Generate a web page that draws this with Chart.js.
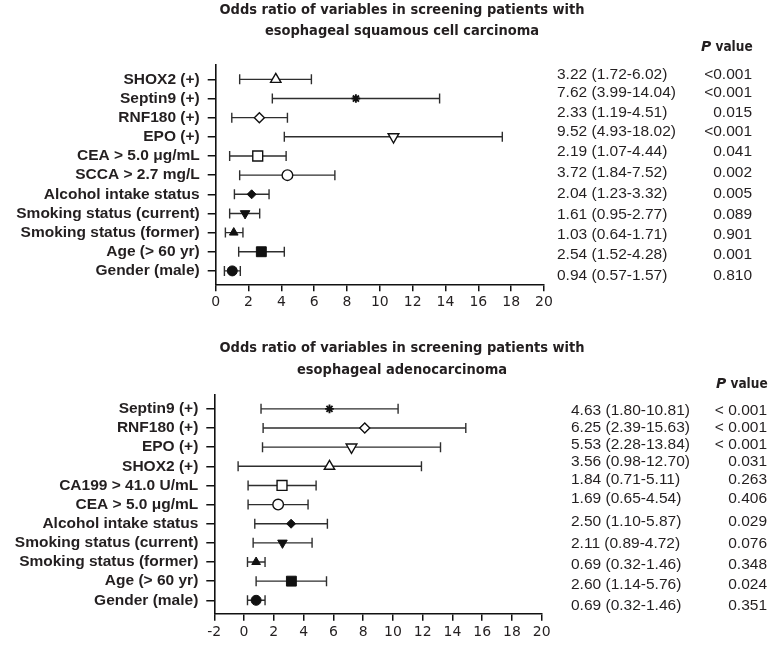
<!DOCTYPE html>
<html>
<head>
<meta charset="utf-8">
<script src="https://cdn.jsdelivr.net/npm/chart.js@4.4.1/dist/chart.umd.min.js"></script>
<style>
  html, body { margin: 0; padding: 0; background: #ffffff; }
  #wrap { position: relative; width: 782px; height: 645px; overflow: hidden; }
  canvas { position: absolute; left: 0; }
</style>
</head>
<body>
<div id="wrap">
  <canvas id="c1" width="782" height="320" style="top:0px"></canvas>
  <canvas id="c2" width="782" height="325" style="top:320px"></canvas>
</div>
<script>
// ---------------- DATA: panel 1 (squamous cell carcinoma) ----------------
const sccTitle = ['Odds ratio of variables in screening patients with', 'esophageal squamous cell carcinoma'];
const sccLabels = ['SHOX2 (+)', 'Septin9 (+)', 'RNF180 (+)', 'EPO (+)', 'CEA > 5.0 μg/mL', 'SCCA > 2.7 mg/L',
  'Alcohol intake status', 'Smoking status (current)', 'Smoking status (former)', 'Age (> 60 yr)', 'Gender (male)'];
const sccOR   = [3.66, 8.54, 2.66, 10.83, 2.56, 4.37, 2.19, 1.79, 1.10, 2.78, 1.01];
const sccLow  = [1.46, 3.45, 0.98, 4.18, 0.85, 1.46, 1.14, 0.85, 0.59, 1.40, 0.53];
const sccHigh = [5.83, 13.64, 4.37, 17.46, 4.29, 7.26, 3.25, 2.68, 1.66, 4.18, 1.50];
const sccORText = ['3.22 (1.72-6.02)', '7.62 (3.99-14.04)', '2.33 (1.19-4.51)', '9.52 (4.93-18.02)', '2.19 (1.07-4.44)',
  '3.72 (1.84-7.52)', '2.04 (1.23-3.32)', '1.61 (0.95-2.77)', '1.03 (0.64-1.71)', '2.54 (1.52-4.28)', '0.94 (0.57-1.57)'];
const sccPText = ['<0.001', '<0.001', '0.015', '<0.001', '0.041', '0.002', '0.005', '0.089', '0.901', '0.001', '0.810'];
const sccMarkers = ['triangleOpen', 'star', 'diamondOpen', 'invTriOpen', 'squareOpen', 'circleOpen',
  'diamond', 'invTri', 'triangle', 'square', 'circle'];
const sccXMin = 0, sccXMax = 20;

// ---------------- DATA: panel 2 (adenocarcinoma) ----------------
const adcTitle = ['Odds ratio of variables in screening patients with', 'esophageal adenocarcinoma'];
const adcLabels = ['Septin9 (+)', 'RNF180 (+)', 'EPO (+)', 'SHOX2 (+)', 'CA199 > 41.0 U/mL', 'CEA > 5.0 μg/mL',
  'Alcohol intake status', 'Smoking status (current)', 'Smoking status (former)', 'Age (> 60 yr)', 'Gender (male)'];
const adcOR   = [5.74, 8.11, 7.22, 5.74, 2.55, 2.29, 3.16, 2.58, 0.81, 3.18, 0.81];
const adcLow  = [1.14, 1.28, 1.24, -0.40, 0.27, 0.27, 0.72, 0.61, 0.23, 0.81, 0.23];
const adcHigh = [10.35, 14.90, 13.20, 11.92, 4.84, 4.30, 5.60, 4.57, 1.41, 5.54, 1.41];
const adcORText = ['4.63 (1.80-10.81)', '6.25 (2.39-15.63)', '5.53 (2.28-13.84)', '3.56 (0.98-12.70)', '1.84 (0.71-5.11)',
  '1.69 (0.65-4.54)', '2.50 (1.10-5.87)', '2.11 (0.89-4.72)', '0.69 (0.32-1.46)', '2.60 (1.14-5.76)', '0.69 (0.32-1.46)'];
const adcPText = ['< 0.001', '< 0.001', '< 0.001', '0.031', '0.263', '0.406', '0.029', '0.076', '0.348', '0.024', '0.351'];
const adcMarkers = ['star', 'diamondOpen', 'invTriOpen', 'triangleOpen', 'squareOpen', 'circleOpen',
  'diamond', 'invTri', 'triangle', 'square', 'circle'];
const adcXMin = -2, adcXMax = 20;

// ---------------- STYLE / LAYOUT ----------------
const INK = '#231f20';
const BAR = '#2e2e2e';
const markerStyles = {
  triangleOpen: { style: 'triangle', rot: 0,   r: 6.0, fill: false, bw: 1.4 },
  invTriOpen:   { style: 'triangle', rot: 180, r: 6.2, fill: false, bw: 1.4 },
  diamondOpen:  { style: 'rectRot',  rot: 0,   r: 5.0, fill: false, bw: 1.4 },
  squareOpen:   { style: 'rect',     rot: 0,   r: 7.0, fill: false, bw: 1.4 },
  circleOpen:   { style: 'circle',   rot: 0,   r: 5.3, fill: false, bw: 1.4 },
  star:         { style: 'star',     rot: 0,   r: 4.3, fill: true,  bw: 1.9 },
  diamond:      { style: 'rectRot',  rot: 0,   r: 4.5, fill: true,  bw: 1 },
  invTri:       { style: 'triangle', rot: 180, r: 5.5, fill: true,  bw: 1 },
  triangle:     { style: 'triangle', rot: 0,   r: 5.0, fill: true,  bw: 1 },
  square:       { style: 'rect',     rot: 0,   r: 7.0, fill: true,  bw: 1 },
  circle:       { style: 'circle',   rot: 0,   r: 5.0, fill: true,  bw: 1 }
};
const TITLE_FONT = "bold 14.5px 'DejaVu Sans Condensed', 'DejaVu Sans', sans-serif";
const HEAD_FONT_P = "italic bold 14px 'DejaVu Sans', sans-serif";
const HEAD_FONT = "bold 13.5px 'DejaVu Sans Condensed', 'DejaVu Sans', sans-serif";
const COL_FONT = "15.5px 'Liberation Sans', Arial, sans-serif";

function textPlugin(t) {
  return {
    id: 'sideText',
    afterDraw(chart) {
      const ctx = chart.ctx;
      ctx.save();
      ctx.fillStyle = INK;
      ctx.textBaseline = 'alphabetic';
      ctx.font = TITLE_FONT;
      ctx.textAlign = 'center';
      t.title.forEach((s, k) => ctx.fillText(s, t.titleX, t.titleY[k]));
      // P value header
      ctx.textAlign = 'left';
      ctx.font = HEAD_FONT_P;
      ctx.fillText('P', t.headX, t.headY);
      const wp = ctx.measureText('P').width;
      ctx.font = HEAD_FONT;
      ctx.fillText(' value', t.headX + wp, t.headY);
      // columns
      ctx.font = COL_FONT;
      t.orText.forEach((s, i) => ctx.fillText(s, t.orX, t.rowY[i] + 5.5));
      ctx.textAlign = 'right';
      t.pText.forEach((s, i) => ctx.fillText(s, t.pX, t.rowY[i] + 5.5));
      ctx.restore();
    }
  };
}

function buildChart(id, p) {
  const n = p.labels.length;
  const markerData = p.or.map((v, i) => ({ x: v, y: i }));
  const capData = p.low.map((v, i) => ({ x: v, y: i })).concat(p.high.map((v, i) => ({ x: v, y: i })));
  const lineData = [];
  for (let i = 0; i < n; i++) {
    lineData.push({ x: p.low[i], y: i }, { x: p.high[i], y: i }, { x: null, y: null });
  }
  const ms = p.markers.map(k => markerStyles[k]);
  return new Chart(document.getElementById(id), {
    type: 'scatter',
    data: {
      datasets: [
        {
          data: markerData,
          order: 0,
          pointStyle: ms.map(m => m.style),
          pointRotation: ms.map(m => m.rot),
          pointRadius: ms.map(m => m.r),
          pointHoverRadius: ms.map(m => m.r),
          pointBackgroundColor: ms.map(m => m.fill ? '#111' : '#ffffff'),
          pointBorderColor: '#111',
          pointBorderWidth: ms.map(m => m.bw)
        },
        {
          data: capData,
          order: 1,
          pointStyle: 'line',
          pointRotation: 90,
          pointRadius: 5,
          pointHoverRadius: 5,
          pointBorderColor: BAR,
          pointBorderWidth: 1.4
        },
        {
          data: lineData,
          order: 2,
          showLine: true,
          spanGaps: false,
          borderColor: BAR,
          borderWidth: 1.4,
          pointRadius: 0,
          pointHoverRadius: 0
        }
      ]
    },
    options: {
      responsive: false,
      animation: false,
      events: [],
      devicePixelRatio: 1,
      layout: { padding: { top: p.top, right: p.right, left: 0, bottom: 0 } },
      plugins: { legend: { display: false }, tooltip: { enabled: false }, title: { display: false } },
      scales: {
        x: {
          type: 'linear',
          min: p.xMin, max: p.xMax,
          afterFit(scale) { scale.height = p.xHeight; },
          ticks: {
            stepSize: 2,
            color: INK,
            padding: 3,
            maxRotation: 0,
            autoSkip: false,
            font: { family: "'DejaVu Sans', sans-serif", size: 14 }
          },
          grid: { drawOnChartArea: false, drawTicks: true, tickLength: 7, color: '#111', lineWidth: 1.5 },
          border: { display: true, color: '#111', width: 1.6 }
        },
        y: {
          type: 'linear',
          reverse: true,
          min: -0.75, max: 10.7,
          afterFit(scale) { scale.width = p.yWidth; },
          afterBuildTicks(scale) { scale.ticks = p.labels.map((_, i) => ({ value: i })); },
          ticks: {
            autoSkip: false,
            color: INK,
            padding: 8,
            callback: (v) => p.labels[v],
            font: { family: "'Liberation Sans', Arial, sans-serif", size: 15.5, weight: 'bold' }
          },
          grid: { drawOnChartArea: false, drawTicks: true, tickLength: 8, color: '#111', lineWidth: 1.5 },
          border: { display: true, color: '#111', width: 1.6 }
        }
      }
    },
    plugins: [textPlugin(p.text)]
  });
}

buildChart('c1', {
  labels: sccLabels, or: sccOR, low: sccLow, high: sccHigh, markers: sccMarkers,
  xMin: sccXMin, xMax: sccXMax,
  top: 65, right: 238, yWidth: 215.7, xHeight: 320 - 284.3,
  text: {
    title: sccTitle, titleX: 402, titleY: [14.3, 35.3],
    headX: 701, headY: 50.7,
    orText: sccORText, pText: sccPText, orX: 557, pX: 752,
    rowY: [73.3, 91.7, 111.7, 130.7, 150, 171.7, 192.3, 213.3, 233.3, 253.3, 274.3]
  }
});

buildChart('c2', {
  labels: adcLabels, or: adcOR, low: adcLow, high: adcHigh, markers: adcMarkers,
  xMin: adcXMin, xMax: adcXMax,
  top: 74.5, right: 240.3, yWidth: 214.3, xHeight: 325 - 293.7,
  text: {
    title: adcTitle, titleX: 402, titleY: [32.3, 54],
    headX: 716, headY: 67.7,
    orText: adcORText, pText: adcPText, orX: 571, pX: 767,
    rowY: [89, 106.7, 123.3, 140, 158.3, 177.7, 200.7, 222.7, 243.3, 263.3, 284.3]
  }
});
</script>
</body>
</html>
